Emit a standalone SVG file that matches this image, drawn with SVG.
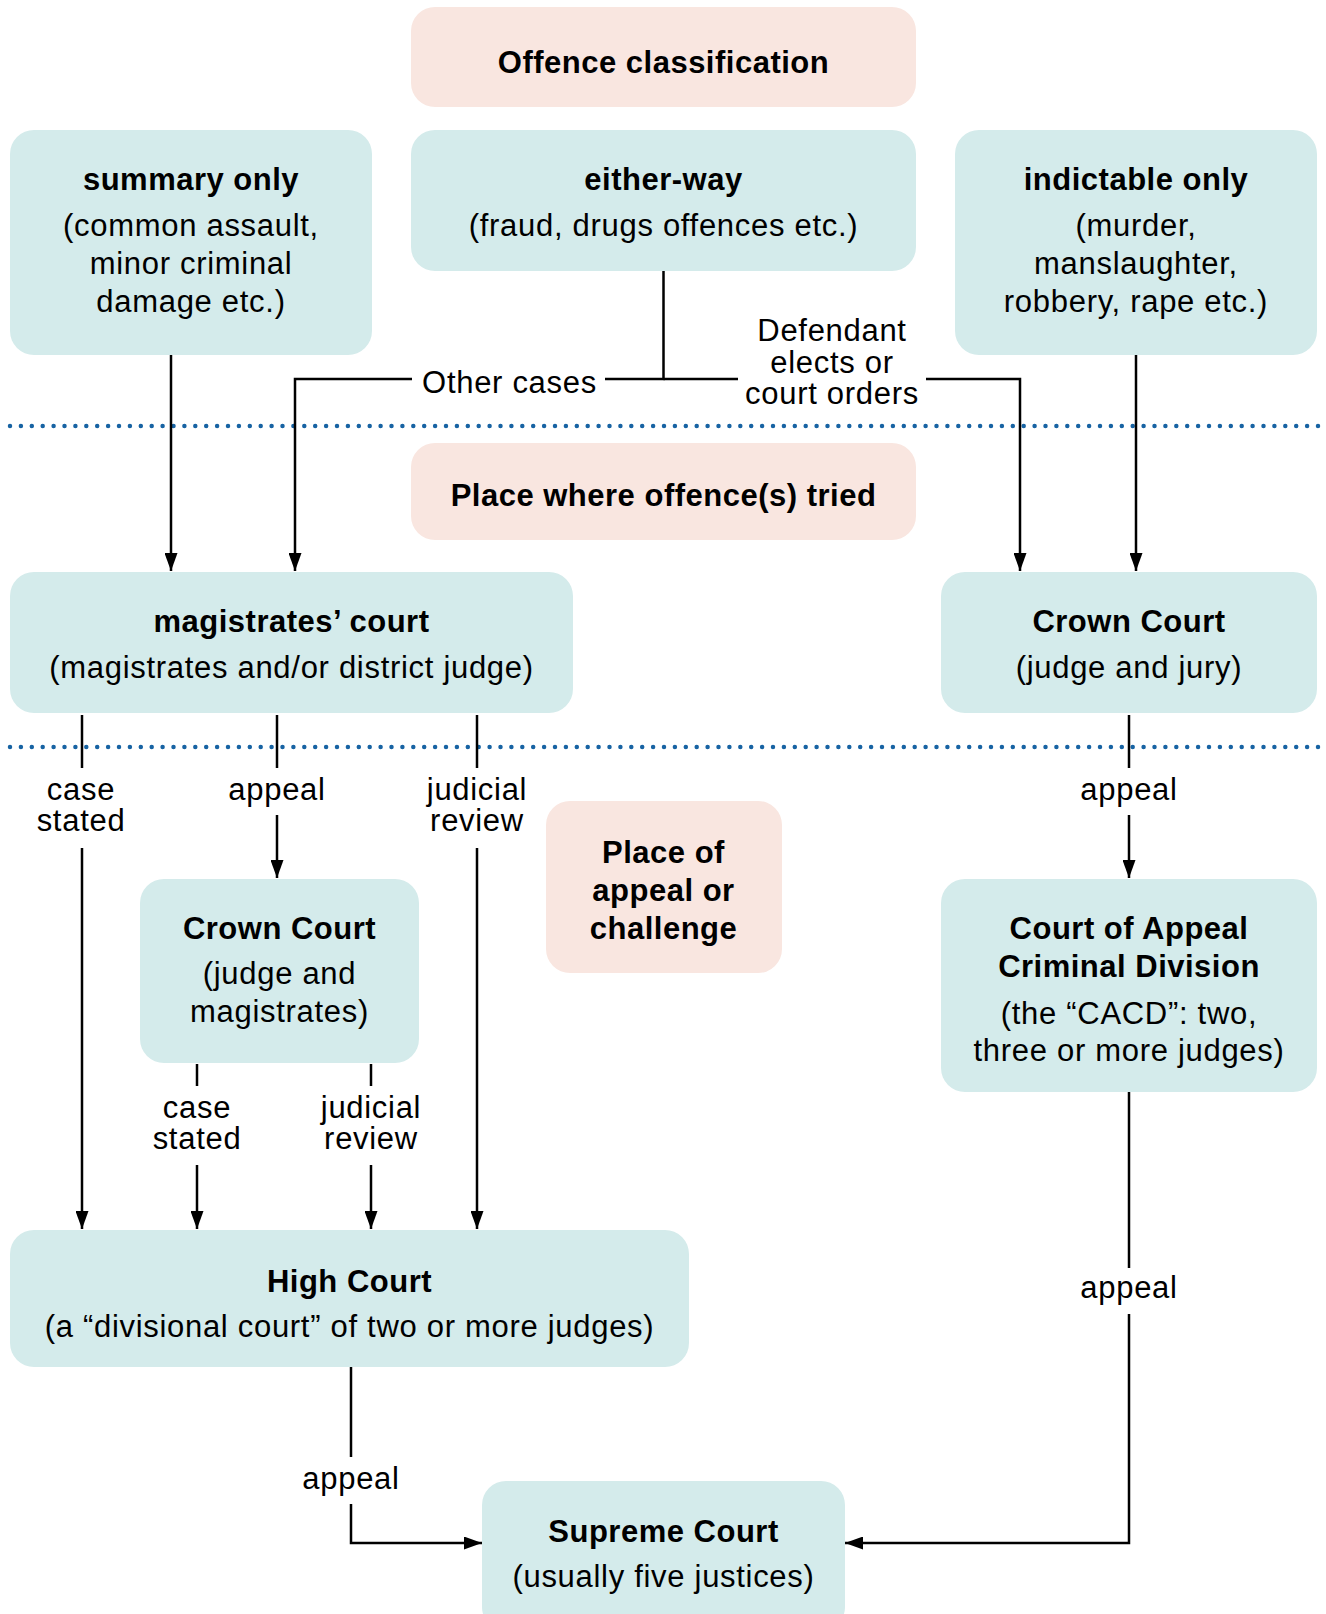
<svg xmlns="http://www.w3.org/2000/svg" width="1326" height="1614" viewBox="0 0 1326 1614">
<defs>
<style>
.n{fill:#d4ebeb}
.h{fill:#f9e6e0}
text{font-family:"Liberation Sans",Arial,sans-serif;font-size:31px;fill:#000;text-anchor:middle;letter-spacing:0.7px}
.b{font-weight:bold;letter-spacing:0.5px}
.c{fill:none;stroke:#000;stroke-width:2.5}
.dot{fill:none;stroke:#1763a3;stroke-width:4.5;stroke-linecap:round;stroke-dasharray:0 10.9}
</style>
<marker id="ar" viewBox="0 0 18 13" refX="18" refY="6.5" markerWidth="18" markerHeight="13" markerUnits="userSpaceOnUse" orient="auto">
<path d="M0,0 L18,6.5 L0,13 Z" fill="#000"/>
</marker>
</defs>
<rect width="1326" height="1614" fill="#fff"/>

<g id="dividers">
<line class="dot" x1="10" y1="426" x2="1326" y2="426"/>
<line class="dot" x1="10" y1="747" x2="1326" y2="747"/>
</g>

<g id="heading-classification">
<rect class="h" x="411" y="7" width="505" height="100" rx="24"/>
<text class="b" x="663.5" y="73">Offence classification</text>
</g>

<g id="summary-only">
<rect class="n" x="10" y="130" width="362" height="225" rx="24"/>
<text class="b" x="191" y="190">summary only</text>
<text x="191" y="236">(common assault,<tspan x="191" dy="38">minor criminal</tspan><tspan x="191" dy="38">damage etc.)</tspan></text>
</g>

<g id="either-way">
<rect class="n" x="411" y="130" width="505" height="141" rx="24"/>
<text class="b" x="663.5" y="190">either-way</text>
<text x="663.5" y="236">(fraud, drugs offences etc.)</text>
</g>

<g id="indictable-only">
<rect class="n" x="955" y="130" width="362" height="225" rx="24"/>
<text class="b" x="1136" y="190">indictable only</text>
<text x="1136" y="236">(murder,<tspan x="1136" dy="38">manslaughter,</tspan><tspan x="1136" dy="38">robbery, rape etc.)</tspan></text>
</g>

<g id="heading-tried">
<rect class="h" x="411" y="443" width="505" height="97" rx="24"/>
<text class="b" x="663.5" y="506">Place where offence(s) tried</text>
</g>

<g id="magistrates-court">
<rect class="n" x="10" y="572" width="563" height="141" rx="24"/>
<text class="b" x="291.5" y="632">magistrates’ court</text>
<text x="291.5" y="678">(magistrates and/or district judge)</text>
</g>

<g id="crown-court-jury">
<rect class="n" x="941" y="572" width="376" height="141" rx="24"/>
<text class="b" x="1129" y="632">Crown Court</text>
<text x="1129" y="678">(judge and jury)</text>
</g>

<g id="heading-appeal">
<rect class="h" x="546" y="801" width="236" height="172" rx="24"/>
<text class="b" x="663.5" y="863">Place of<tspan x="663.5" dy="38">appeal or</tspan><tspan x="663.5" dy="38">challenge</tspan></text>
</g>

<g id="crown-court-magistrates">
<rect class="n" x="140" y="879" width="279" height="184" rx="24"/>
<text class="b" x="279.5" y="939">Crown Court</text>
<text x="279.5" y="984">(judge and<tspan x="279.5" dy="38">magistrates)</tspan></text>
</g>

<g id="court-of-appeal">
<rect class="n" x="941" y="879" width="376" height="213" rx="24"/>
<text class="b" x="1129" y="939">Court of Appeal<tspan x="1129" dy="38">Criminal Division</tspan></text>
<text x="1129" y="1024">(the “CACD”: two,<tspan x="1129" dy="37">three or more judges)</tspan></text>
</g>

<g id="high-court">
<rect class="n" x="10" y="1230" width="679" height="137" rx="24"/>
<text class="b" x="349.5" y="1292">High Court</text>
<text x="349.5" y="1337">(a “divisional court” of two or more judges)</text>
</g>

<g id="supreme-court">
<rect class="n" x="482" y="1481" width="363" height="150" rx="24"/>
<text class="b" x="663.5" y="1542">Supreme Court</text>
<text x="663.5" y="1587">(usually five justices)</text>
</g>

<g id="connectors">
<path class="c" d="M171,355 V571" marker-end="url(#ar)"/>
<path class="c" d="M663.5,271 V379 H605"/>
<path class="c" d="M412,379 H295 V571" marker-end="url(#ar)"/>
<path class="c" d="M663.5,379 H738"/>
<path class="c" d="M926,379 H1020 V571" marker-end="url(#ar)"/>
<path class="c" d="M1136,355 V571" marker-end="url(#ar)"/>

<path class="c" d="M82,715 V768"/>
<path class="c" d="M82,848 V1229" marker-end="url(#ar)"/>
<path class="c" d="M277,715 V768"/>
<path class="c" d="M277,815 V878" marker-end="url(#ar)"/>
<path class="c" d="M477,715 V768"/>
<path class="c" d="M477,848 V1229" marker-end="url(#ar)"/>
<path class="c" d="M1129,715 V768"/>
<path class="c" d="M1129,815 V878" marker-end="url(#ar)"/>

<path class="c" d="M197,1064 V1086"/>
<path class="c" d="M197,1165 V1229" marker-end="url(#ar)"/>
<path class="c" d="M371,1064 V1086"/>
<path class="c" d="M371,1165 V1229" marker-end="url(#ar)"/>

<path class="c" d="M351,1367 V1457"/>
<path class="c" d="M351,1504 V1543 H482" marker-end="url(#ar)"/>
<path class="c" d="M1129,1092 V1268"/>
<path class="c" d="M1129,1314 V1543 H845" marker-end="url(#ar)"/>

<text x="509.5" y="393">Other cases</text>
<text x="832" y="341">Defendant<tspan x="832" dy="32">elects or</tspan><tspan x="832" dy="31">court orders</tspan></text>

<text x="81" y="800">case<tspan x="81" dy="31">stated</tspan></text>
<text x="277" y="800">appeal</text>
<text x="477" y="800">judicial<tspan x="477" dy="31">review</tspan></text>
<text x="1129" y="800">appeal</text>

<text x="197" y="1118">case<tspan x="197" dy="31">stated</tspan></text>
<text x="371" y="1118">judicial<tspan x="371" dy="31">review</tspan></text>

<text x="351" y="1489">appeal</text>
<text x="1129" y="1298">appeal</text>
</g>
</svg>
